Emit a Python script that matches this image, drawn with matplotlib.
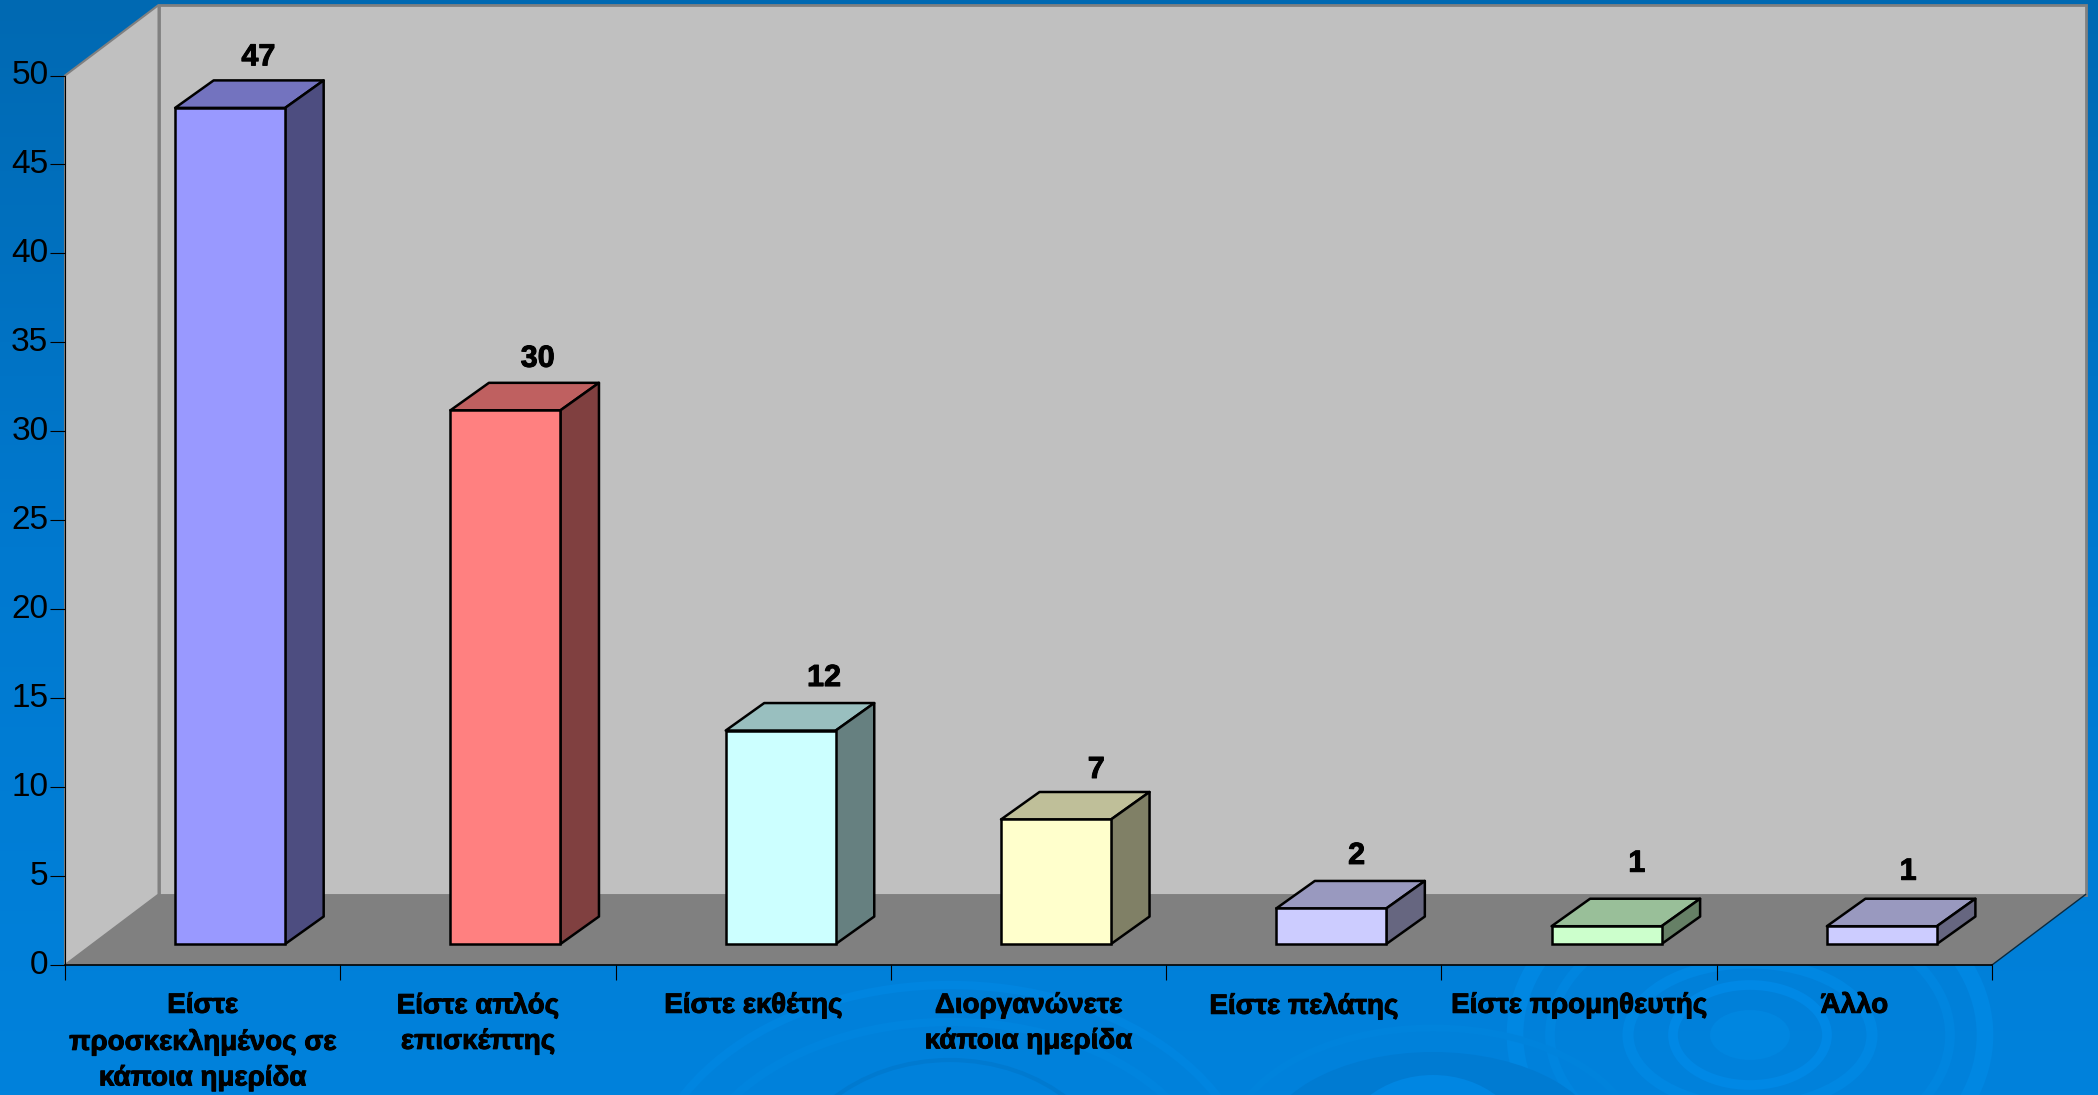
import numpy as np
import matplotlib
matplotlib.use('Agg')
import matplotlib.pyplot as plt
import matplotlib.patheffects as pe
from matplotlib.patches import Polygon, Ellipse
from matplotlib.transforms import ScaledTranslation

categories = ['Είστε\nπροσκεκλημένος σε\nκάποια ημερίδα', 'Είστε απλός\nεπισκέπτης', 'Είστε εκθέτης',
              'Διοργανώνετε\nκάποια ημερίδα', 'Είστε πελάτης', 'Είστε προμηθευτής', 'Άλλο']
values = [47, 30, 12, 7, 2, 1, 1]
y_ticks = [0, 5, 10, 15, 20, 25, 30, 35, 40, 45, 50]
front_colors = ['#9999FF', '#FF8080', '#CCFFFF', '#FFFFCC', '#CCCCFF', '#CCFFCC', '#CCCCFF']

# data label nudges, in pixels
label_dx = [9, 13, 24, 21, 6, 11, 7]
label_dy = [23, 24, 25, 22, 25, 35, 27]

W, H = 2098, 1095
PX_X = 275.2   # pixels per category
PX_Y = 17.8    # pixels per unit of value

fig = plt.figure(figsize=(W / 100, H / 100), dpi=100)

# background: blue gradient with faint rings
bg = fig.add_axes((0, 0, 1, 1))
bg.set_xlim(0, W)
bg.set_ylim(H, 0)
bg.axis('off')
grad = np.linspace(0, 1, 256).reshape(-1, 1)
cmap = matplotlib.colors.LinearSegmentedColormap.from_list('bg', ['#0069B2', '#0079CF', '#0082DC'])
bg.imshow(grad, extent=(0, W, H, 0), aspect='auto', cmap=cmap, zorder=0)
# (cx, cy, rx, ry, line width, colour) - filled when the width is 0
rings = [(1750, 1035, 235, 170, 12, '#0087E2'), (1750, 1035, 200, 130, 7, '#0085DF'),
         (1750, 1035, 122, 72, 8, '#0087E2'), (1750, 1035, 77, 50, 7, '#0088E5'),
         (1750, 1035, 40, 25, 0, '#0086E0'),
         (1433, 1150, 172, 98, 0, '#007BD2'), (1433, 1150, 92, 75, 0, '#0086E2'),
         (1433, 1150, 205, 122, 5, '#0083DC'),
         (950, 1200, 305, 215, 6, '#0085E0'), (950, 1200, 265, 178, 6, '#0084DE'),
         (950, 1200, 170, 140, 3, '#007AD0')]
for cx, cy, rx, ry, lw, col in rings:
    if lw == 0:
        bg.add_patch(Ellipse((cx, cy), 2 * rx, 2 * ry, fc=col, ec='none', zorder=1))
    else:
        bg.add_patch(Ellipse((cx, cy), 2 * rx, 2 * ry, fill=False, ec=col, lw=lw, zorder=1))

ax = fig.add_axes((65 / W, (H - 965) / H, (1992 - 65) / W, (965 - 75.5) / H))
ax.patch.set_alpha(0)
ax.set_xlim(0, len(values))
ax.set_ylim(0, 50)

# walls and floor
wx, wy = 93.5 / PX_X, 70.5 / PX_Y
n = len(values)
ax.add_patch(Polygon([(0, 0), (0, 50), (wx, 50 + wy), (wx, wy)], fc='#C0C0C0', ec='#808080', lw=1.5, clip_on=False, zorder=1))
ax.add_patch(Polygon([(wx, wy), (wx, 50 + wy), (n + wx, 50 + wy), (n + wx, wy)], fc='#C0C0C0', ec='#808080', lw=2, clip_on=False, zorder=1))
ax.add_patch(Polygon([(0, 0), (wx, wy), (n + wx, wy), (n, 0)], fc='#808080', ec='none', clip_on=False, zorder=2))
ax.plot([n, n + wx], [0, wy], color='#0A2A40', lw=1, clip_on=False, zorder=2)

# bars
bar_w = 110 / PX_X
off_x = 27.5 / PX_X
off_y = 21 / PX_Y
depth_x = 38.5 / PX_X
depth_y = 27.5 / PX_Y
xs = np.arange(n) + 0.5 + off_x

ax.bar(xs, values, width=bar_w, bottom=off_y, color=front_colors, edgecolor='black', linewidth=1.8, clip_on=False, zorder=4)


def shade(c, k):
    r, g, b = matplotlib.colors.to_rgb(c)
    return (r * k, g * k, b * k)


heavy = [pe.withStroke(linewidth=0.7, foreground='black')]
for x, v, c, dx, dy in zip(xs, values, front_colors, label_dx, label_dy):
    l, r = x - bar_w / 2, x + bar_w / 2
    t = off_y + v
    ax.add_patch(Polygon([(l, t), (l + depth_x, t + depth_y), (r + depth_x, t + depth_y), (r, t)],
                         fc=shade(c, 0.75), ec='black', lw=1.8, joinstyle='round', clip_on=False, zorder=3))
    ax.add_patch(Polygon([(r, off_y), (r, t), (r + depth_x, t + depth_y), (r + depth_x, off_y + depth_y)],
                         fc=shade(c, 0.5), ec='black', lw=1.8, joinstyle='round', clip_on=False, zorder=3))
    ax.annotate(str(v), ((l + r + depth_x) / 2, t + depth_y), xytext=(dx * 0.72, dy * 0.72), textcoords='offset points',
                ha='center', va='center', fontsize=22, fontweight='bold', family='Liberation Sans', color='black',
                annotation_clip=False, zorder=6, path_effects=heavy)

# axes
for s in ['top', 'right']:
    ax.spines[s].set_visible(False)
ax.spines['left'].set_linewidth(0.8)
ax.spines['bottom'].set_linewidth(1.2)
ax.spines['left'].set_zorder(5)
ax.spines['bottom'].set_zorder(5)
ax.set_yticks(y_ticks)
ax.set_xticks(range(n + 1), [''] * (n + 1))
ax.set_xticks(np.arange(n) + 0.5, categories, minor=True)
ax.tick_params(axis='y', length=11, width=0.8, pad=1, labelsize=24, labelfontfamily='Liberation Sans')
ax.tick_params(axis='x', which='major', length=11, width=0.8)
ax.tick_params(axis='x', which='minor', length=0, pad=20, labelsize=20, labelfontfamily='Liberation Sans')
for lab in ax.get_xticklabels(minor=True):
    lab.set_fontweight('bold')
    lab.set_linespacing(1.48)
    lab.set_path_effects(heavy)
up = ScaledTranslation(0, 3 / 100, fig.dpi_scale_trans)
for lab in ax.get_yticklabels():
    lab.set_transform(lab.get_transform() + up)

fig.savefig('out.png', dpi=100)
